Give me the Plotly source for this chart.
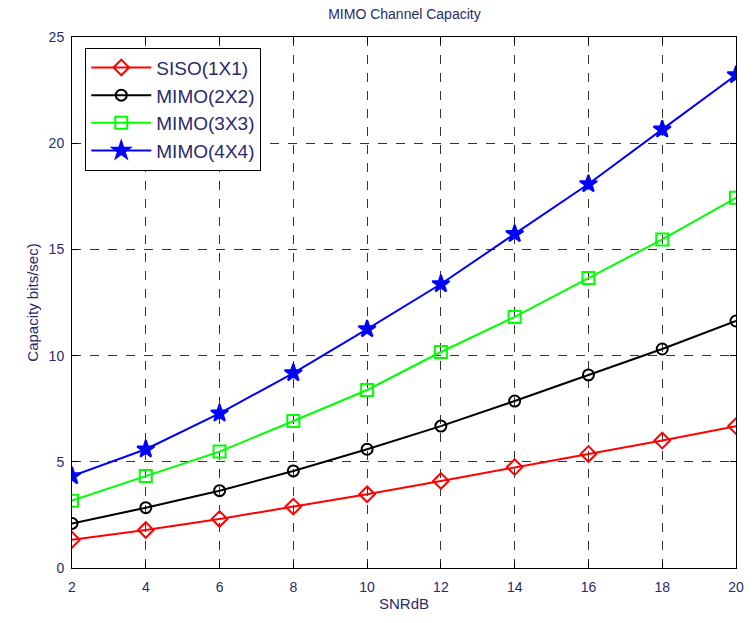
import plotly.graph_objects as go

snr = [2, 4, 6, 8, 10, 12, 14, 16, 18, 20]
siso = [1.33, 1.79, 2.31, 2.89, 3.47, 4.10, 4.75, 5.37, 6.00, 6.68]
mimo2 = [2.10, 2.84, 3.64, 4.57, 5.59, 6.68, 7.86, 9.09, 10.31, 11.63]
mimo3 = [3.17, 4.33, 5.48, 6.92, 8.38, 10.17, 11.82, 13.65, 15.47, 17.43]
mimo4 = [4.33, 5.59, 7.28, 9.18, 11.25, 13.37, 15.73, 18.08, 20.65, 23.21]

names = ["SISO(1X1)", "MIMO(2X2)", "MIMO(3X3)", "MIMO(4X4)"]
colors = ["#ff0000", "#000000", "#00ff00", "#0000ff"]
symbols = ["diamond-open", "circle-open", "square-open", "star"]
sizes = [12, 11, 12, 13]

fig = go.Figure()
for name, vals, c, s, sz in zip(names, [siso, mimo2, mimo3, mimo4], colors, symbols, sizes):
    fig.add_trace(go.Scatter(
        x=snr, y=vals, name=name, mode="lines+markers",
        line=dict(color=c, width=2),
        marker=dict(symbol=s, size=sz, color=c, line=dict(color=c, width=2)),
    ))

txt = "#2a2a6a"
fig.update_layout(
    width=756, height=623,
    margin=dict(l=72, r=15, t=37, b=55),
    paper_bgcolor="white", plot_bgcolor="white",
    font=dict(family="Liberation Sans, Arial, sans-serif", size=14, color=txt),
    title=dict(text="MIMO Channel Capacity", x=0.535, xanchor="center", y=0.985, yanchor="top",
               font=dict(size=14, color=txt)),
    showlegend=True,
    legend=dict(x=0.02, y=0.98, xanchor="left", yanchor="top",
                bgcolor="white", bordercolor="black", borderwidth=1,
                font=dict(size=19, color=txt), itemwidth=60, tracegroupgap=0),
)
fig.update_xaxes(range=[2, 20], tickvals=snr, ticks="inside", ticklen=6, tickcolor="black",
                 showline=True, linecolor="black", linewidth=1, mirror="ticks",
                 showgrid=True, gridcolor="#333333", griddash="dash", gridwidth=1,
                 ticklabelstandoff=6,
                 zeroline=False, title=dict(text="SNRdB", font=dict(size=15, color=txt), standoff=4))
fig.update_yaxes(range=[0, 25], tickvals=[0, 5, 10, 15, 20, 25], ticks="inside", ticklen=6, tickcolor="black",
                 showline=True, linecolor="black", linewidth=1, mirror="ticks",
                 showgrid=True, gridcolor="#333333", griddash="dash", gridwidth=1,
                 ticklabelstandoff=4,
                 zeroline=False, title=dict(text="Capacity bits/sec)", font=dict(size=15, color=txt), standoff=6))

fig.write_html("out.html")
